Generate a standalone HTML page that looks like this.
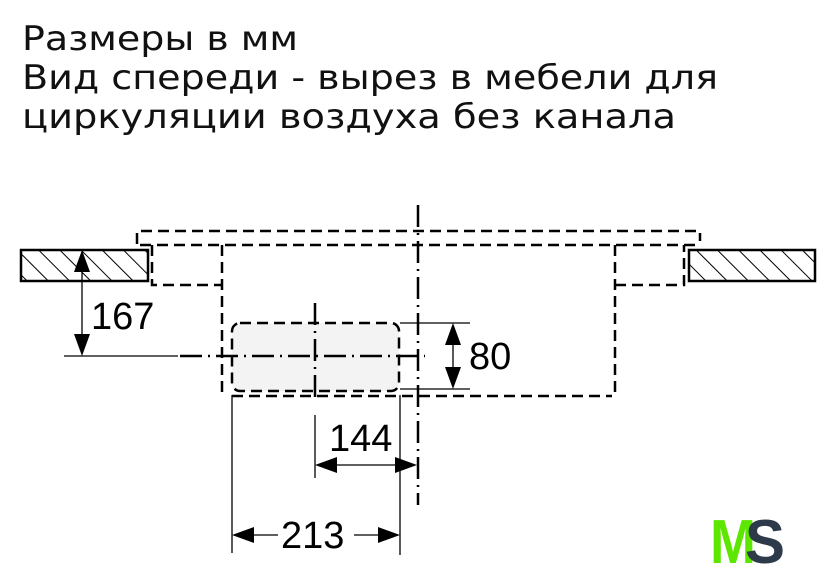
<!DOCTYPE html>
<html><head><meta charset="utf-8"><style>
html,body{margin:0;padding:0;background:#fff;width:840px;height:575px;overflow:hidden}
</style></head><body>
<svg width="840" height="575" viewBox="0 0 840 575" xmlns="http://www.w3.org/2000/svg">
<defs>
<pattern id="h" patternUnits="userSpaceOnUse" width="15" height="15" patternTransform="rotate(-45)">
<line x1="0" y1="0" x2="0" y2="15" stroke="#000" stroke-width="2"/>
</pattern>
</defs>
<g font-family="'DejaVu Sans', sans-serif" font-size="34" fill="#111">
<text x="22" y="50" textLength="276" lengthAdjust="spacingAndGlyphs">Размеры в мм</text>
<text x="22" y="89" textLength="696" lengthAdjust="spacingAndGlyphs">Вид спереди - вырез в мебели для</text>
<text x="22" y="128" textLength="654" lengthAdjust="spacingAndGlyphs">циркуляции воздуха без канала</text>
</g>
<rect x="21" y="250" width="127" height="31" fill="url(#h)" stroke="#000" stroke-width="2.5"/>
<rect x="689" y="250" width="126" height="31" fill="url(#h)" stroke="#000" stroke-width="2.5"/>
<rect x="232" y="323" width="167" height="68" rx="8" fill="#f3f3f3" stroke="#000" stroke-width="2.5" stroke-dasharray="11,6"/>
<g fill="none" stroke="#000" stroke-width="2.5" stroke-dasharray="11,6">
<path d="M137 244 V231 H700 V241"/>
<path d="M140 245 H695"/>
<path d="M152 245 V285 H222"/>
<path d="M222 245 V395"/>
<path d="M232 396 H612"/>
<path d="M615 245 V392"/>
<path d="M615 285 H684 V245"/>
</g>
<g fill="none" stroke="#000" stroke-width="2.5" stroke-dasharray="22,6,2,6">
<path d="M418 205 V505"/>
<path d="M315 303 V400"/>
<path d="M180 356 H425"/>
</g>
<g stroke="#000" stroke-width="1.3" fill="none">
<path d="M64 356 H178"/>
<path d="M82 262 V344"/>
<path d="M400 323 H470 M400 389 H470"/>
<path d="M453 333 V379"/>
<path d="M315 415 V478"/>
<path d="M400 395 V555"/>
<path d="M232 395 V553"/>
<path d="M328 465 H404"/>
<path d="M246 535 H278 M354 535 H388"/>
</g>
<g fill="#000">
<path d="M82 250 L74 272 H90 Z"/>
<path d="M82 356 L74 334 H90 Z"/>
<path d="M453 323 L445 345 H461 Z"/>
<path d="M453 389 L445 367 H461 Z"/>
<path d="M315 465 L337 457 V473 Z"/>
<path d="M417 465 L395 457 V473 Z"/>
<path d="M232 535 L254 527 V543 Z"/>
<path d="M400 535 L378 527 V543 Z"/>
</g>
<g font-family="'Liberation Sans', sans-serif" font-size="38" fill="#000">
<text x="91" y="329">167</text>
<text x="469" y="369">80</text>
<text x="329" y="451">144</text>
<text x="281" y="548">213</text>
</g>
<g font-family="'Liberation Sans', sans-serif" font-weight="bold" font-size="62">
<text x="710" y="563" fill="#5ce600" textLength="46" lengthAdjust="spacingAndGlyphs">M</text>
<text x="745" y="563" fill="#2d3a4a" textLength="40" lengthAdjust="spacingAndGlyphs">S</text>
</g>
</svg>
</body></html>
